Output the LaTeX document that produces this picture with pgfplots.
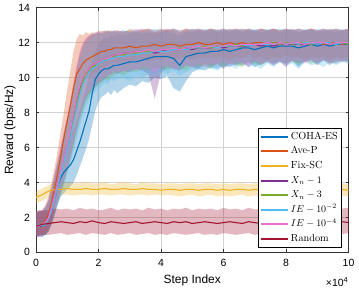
\documentclass[border=0pt]{standalone}
\usepackage{pgfplots}
\pgfplotsset{compat=1.18}
\usepackage{pgfplotstable}
\usepgfplotslibrary{fillbetween}
\usepackage{fontspec}
\newfontfamily\arial{Liberation Sans}
\definecolor{cC}{rgb}{0,0.447,0.741}
\definecolor{cA}{rgb}{0.850,0.325,0.098}
\definecolor{cF}{rgb}{0.929,0.694,0.125}
\definecolor{cP}{rgb}{0.494,0.184,0.556}
\definecolor{cG}{rgb}{0.466,0.674,0.188}
\definecolor{cB}{rgb}{0.301,0.745,0.933}
\definecolor{cK}{rgb}{0.91,0.45,0.82}
\definecolor{cR}{rgb}{0.635,0.078,0.184}

\pgfplotstableread{
x am al ah cm cl ch pm pl ph gm gl gh bm bl bh km kl kh
0.0 1.5 1.0 2.3 1.5 0.9 2.2 1.5 0.9 2.3 1.5 1.0 2.2 1.5 0.9 2.3 1.5 1.0 2.4
0.1 1.5 1.0 2.4 1.5 0.9 2.3 1.5 0.9 2.4 1.5 0.9 2.3 1.6 1.0 2.4 1.5 0.9 2.3
0.2 1.6 1.0 2.4 1.5 0.9 2.3 1.5 0.9 2.4 1.6 1.0 2.4 1.5 0.9 2.3 1.6 1.0 2.4
0.3 1.8 1.1 2.7 1.6 1.0 2.5 1.7 1.0 2.6 1.7 1.0 2.5 1.6 1.0 2.5 1.7 1.1 2.6
0.4 2.2 1.4 3.2 1.9 1.2 2.9 2.0 1.2 3.0 1.9 1.2 2.9 1.9 1.2 2.9 2.0 1.3 3.0
0.5 2.9 1.9 4.0 2.4 1.6 3.4 2.6 1.7 3.7 2.5 1.6 3.6 2.4 1.6 3.5 2.6 1.7 3.7
0.6 3.7 2.6 4.9 3.1 2.2 4.1 3.3 2.3 4.5 3.2 2.2 4.4 3.1 2.1 4.3 3.3 2.3 4.5
0.7 4.6 3.4 5.9 3.8 2.8 4.9 4.0 2.9 5.3 3.9 2.8 5.2 3.8 2.7 5.1 4.0 2.9 5.3
0.8 5.6 4.3 7.0 4.3 3.2 5.5 4.7 3.5 6.1 4.6 3.4 6.0 4.5 3.3 5.9 4.8 3.6 6.2
0.9 6.6 5.2 8.1 4.6 3.4 5.9 5.4 4.1 6.9 5.3 4.0 6.8 5.2 3.9 6.7 5.5 4.2 7.0
1.0 7.5 6.1 9.3 4.8 3.6 6.2 6.1 4.7 7.7 6.0 4.6 7.6 5.9 4.5 7.5 6.2 4.8 7.8
1.1 8.4 6.9 10.4 5.0 3.8 6.6 6.9 5.4 8.6 6.8 5.3 8.5 6.6 5.1 8.3 7.0 5.5 8.7
1.2 9.4 7.8 11.5 5.3 4.0 7.0 7.8 6.2 9.6 7.6 6.0 9.4 7.4 5.8 9.2 7.9 6.3 9.7
1.3 10.2 8.7 12.2 5.8 4.4 7.5 8.7 7.0 10.6 8.5 6.8 10.4 8.2 6.5 10.1 8.8 7.1 10.7
1.4 10.5 9.3 12.5 6.3 4.9 8.1 9.4 7.7 11.4 9.2 7.5 11.2 9.0 7.2 11.0 9.5 7.8 11.5
1.5 10.8 9.6 12.4 6.9 5.4 8.7 9.9 8.3 11.9 9.8 8.1 11.8 9.6 7.8 11.6 10.0 8.4 12.0
1.6 11.0 9.9 12.6 7.5 5.9 9.4 10.3 8.8 12.2 10.2 8.6 12.1 10.0 8.3 12.0 10.3 8.9 12.3
1.7 11.1 10.0 12.5 8.1 6.5 10.1 10.5 9.1 12.4 10.4 8.9 12.3 10.3 8.7 12.2 10.5 9.2 12.4
1.8 11.2 10.2 12.6 9.1 7.3 10.9 10.7 9.3 12.5 10.6 9.2 12.4 10.5 9.0 12.4 10.7 9.4 12.5
1.9 11.3 10.3 12.5 9.9 8.1 11.5 10.8 9.5 12.5 10.7 9.4 12.6 10.6 9.2 12.5 10.8 9.6 12.6
2.0 11.4 10.4 12.7 10.2 8.6 11.9 10.9 9.7 12.6 10.9 9.6 12.5 10.8 9.4 12.6 10.9 9.7 12.6
2.1 11.5 10.6 12.6 10.4 8.9 12.1 11.0 9.8 12.5 11.0 9.7 12.6 10.9 9.5 12.5 11.0 9.9 12.7
2.2 11.5 10.5 12.7 10.5 9.0 12.3 11.1 9.9 12.6 11.0 9.9 12.7 11.0 9.7 12.6 11.1 10.0 12.6
2.3 11.6 10.7 12.6 10.5 9.2 12.2 11.1 10.1 12.7 11.1 9.8 12.6 11.0 9.6 12.7 11.1 10.1 12.7
2.4 11.6 10.8 12.7 10.6 9.0 12.4 11.2 10.2 12.6 11.2 10.0 12.7 11.1 9.9 12.6 11.2 10.2 12.6
2.5 11.7 10.9 12.6 10.7 9.3 12.3 11.3 10.3 12.7 11.2 10.1 12.6 11.1 9.8 12.7 11.3 10.3 12.7
2.6 11.7 10.8 12.7 10.7 9.1 12.5 11.3 10.2 12.6 11.3 10.3 12.7 11.2 9.9 12.6 11.3 10.4 12.7
2.8 11.7 11.0 12.6 10.8 9.4 12.4 11.4 10.4 12.7 11.3 10.1 12.6 11.2 10.0 12.7 11.4 10.3 12.6
3.0 11.8 10.9 12.7 10.9 9.6 12.5 11.4 10.3 12.6 11.4 10.4 12.8 11.3 9.8 12.6 11.4 10.5 12.7
3.2 11.7 11.0 12.6 10.9 9.5 12.6 11.5 10.5 12.7 11.4 10.3 12.7 11.3 10.1 12.7 11.5 10.4 12.8
3.4 11.8 11.1 12.7 11.0 9.8 12.5 11.5 10.4 12.8 11.5 10.5 12.7 11.4 10.0 12.6 11.5 10.6 12.7
3.6 11.8 10.9 12.8 11.1 9.7 12.6 11.5 10.2 12.7 11.5 10.4 12.8 11.4 10.2 12.7 11.6 10.5 12.8
3.8 11.9 11.1 12.6 11.2 10.0 12.5 11.4 8.8 12.6 11.5 10.6 12.7 11.5 10.1 12.8 11.5 10.2 12.7
4.0 11.8 11.0 12.7 11.2 9.9 12.6 11.5 10.3 12.7 11.6 10.5 12.8 11.5 10.3 12.7 11.6 10.6 12.8
4.2 11.9 11.2 12.7 11.2 10.1 12.7 11.6 10.6 12.8 11.6 10.4 12.7 11.5 10.2 12.6 11.6 10.7 12.7
4.4 11.9 11.0 12.8 11.1 9.4 12.5 11.6 10.5 12.7 11.6 10.6 12.8 11.6 10.4 12.8 11.7 10.5 12.8
4.6 11.8 11.1 12.6 10.7 9.2 12.4 11.6 10.4 12.6 11.7 10.5 12.7 11.6 10.1 12.7 11.6 10.6 12.7
4.8 11.9 11.2 12.7 11.2 9.8 12.6 11.7 10.7 12.8 11.6 10.4 12.8 11.6 10.3 12.6 11.7 10.7 12.8
5.0 11.9 11.0 12.8 11.3 10.3 12.6 11.6 10.6 12.7 11.7 10.7 12.7 11.7 10.5 12.8 11.7 10.6 12.7
5.2 12.0 11.2 12.7 11.4 10.5 12.7 11.7 10.5 12.8 11.7 10.6 12.8 11.7 10.4 12.7 11.8 10.8 12.8
5.4 11.9 11.1 12.7 11.4 10.4 12.6 11.7 10.8 12.7 11.8 10.7 12.7 11.7 10.6 12.8 11.7 10.6 12.7
5.6 11.9 11.2 12.8 11.5 10.6 12.7 11.7 10.6 12.8 11.7 10.5 12.8 11.8 10.5 12.7 11.8 10.8 12.8
5.8 12.0 11.1 12.7 11.5 10.5 12.6 11.8 10.8 12.7 11.8 10.8 12.7 11.7 10.4 12.8 11.8 10.7 12.7
6.0 11.9 11.2 12.6 11.6 10.7 12.7 11.7 10.5 12.8 11.8 10.6 12.8 11.8 10.6 12.7 11.8 10.9 12.8
6.2 12.0 11.0 12.8 11.5 10.6 12.6 11.8 10.8 12.7 11.8 10.9 12.7 11.8 10.7 12.8 11.9 10.7 12.7
6.4 11.9 11.2 12.7 11.6 10.8 12.7 11.8 10.7 12.8 11.9 10.7 12.8 11.8 10.5 12.7 11.8 10.9 12.8
6.6 12.0 11.1 12.8 11.7 10.7 12.6 11.8 10.9 12.7 11.8 10.6 12.7 11.9 10.8 12.8 11.9 10.8 12.7
6.8 11.9 11.3 12.7 11.7 10.9 12.7 11.8 10.6 12.8 11.9 10.9 12.8 11.8 10.6 12.7 11.9 10.7 12.8
7.0 12.0 11.1 12.6 11.6 10.6 12.7 11.9 10.9 12.7 11.9 10.8 12.7 11.9 10.7 12.8 11.9 11.0 12.7
7.2 12.0 11.2 12.8 11.7 10.8 12.6 11.8 10.7 12.8 11.9 10.7 12.8 11.9 10.5 12.7 11.9 10.8 12.8
7.4 11.9 11.0 12.7 11.8 10.9 12.7 11.9 11.0 12.7 11.9 10.9 12.7 11.9 10.8 12.8 12.0 10.9 12.7
7.6 12.0 11.2 12.8 11.7 10.7 12.7 11.8 10.8 12.8 12.0 10.8 12.8 11.9 10.6 12.7 11.9 10.7 12.8
7.8 12.0 11.1 12.7 11.8 10.9 12.6 11.9 10.9 12.7 11.9 11.0 12.7 12.0 10.9 12.8 12.0 11.0 12.7
8.0 11.9 11.3 12.7 11.8 10.8 12.7 11.9 10.6 12.8 12.0 10.8 12.8 11.9 10.7 12.7 11.9 10.8 12.8
8.2 12.0 11.1 12.8 11.8 11.0 12.7 11.9 11.0 12.7 11.9 10.9 12.7 12.0 10.8 12.8 12.0 10.9 12.7
8.4 12.0 11.2 12.6 11.7 10.6 12.6 11.9 10.8 12.8 12.0 10.7 12.8 11.9 10.5 12.7 12.0 11.0 12.8
8.6 11.9 11.0 12.7 11.8 10.9 12.7 11.9 10.9 12.7 12.0 11.0 12.7 12.0 10.9 12.8 11.9 10.8 12.7
8.8 12.0 11.2 12.8 11.9 11.0 12.7 12.0 11.0 12.8 11.9 10.8 12.8 12.0 10.7 12.7 12.0 11.0 12.8
9.0 12.0 11.1 12.7 11.8 10.8 12.6 11.9 10.7 12.7 12.0 10.9 12.7 11.9 10.8 12.8 12.0 10.9 12.7
9.2 11.9 11.2 12.6 11.9 11.0 12.7 12.0 11.0 12.8 12.0 11.0 12.8 12.0 10.6 12.7 12.0 11.0 12.8
9.4 12.0 11.0 12.8 11.8 10.7 12.7 11.9 10.9 12.7 11.9 10.8 12.7 12.0 10.9 12.8 11.9 10.8 12.7
9.6 12.0 11.2 12.7 11.9 11.0 12.6 12.0 10.8 12.8 12.0 10.9 12.8 11.9 10.7 12.7 12.0 11.0 12.8
9.8 11.9 11.1 12.7 11.9 10.9 12.7 12.0 11.0 12.7 12.0 11.0 12.7 12.0 10.9 12.8 12.0 10.9 12.7
10.0 12.0 11.2 12.8 11.9 11.0 12.7 12.0 10.9 12.8 11.9 10.8 12.8 12.0 10.8 12.7 12.0 11.0 12.8
}\Learn

\pgfplotstableread{
x fm fl fh rm rl rh
0.0 3.15 2.8 3.5 1.5 0.9 2.3
0.2 3.3 2.95 3.65 1.6 1.0 2.4
0.4 3.5 3.15 3.85 1.65 1.0 2.4
0.6 3.6 3.25 3.95 1.7 1.05 2.5
0.8 3.6 3.3 3.95 1.75 1.1 2.45
1.0 3.65 3.3 4.0 1.7 1.0 2.5
1.2 3.6 3.25 3.95 1.65 1.05 2.4
1.4 3.6 3.3 3.95 1.75 1.1 2.55
1.6 3.65 3.3 4.0 1.7 1.0 2.45
1.8 3.6 3.25 3.95 1.8 1.1 2.5
2.0 3.6 3.3 3.95 1.7 1.05 2.4
2.2 3.65 3.3 4.0 1.65 1.0 2.45
2.4 3.6 3.25 3.9 1.75 1.1 2.55
2.6 3.6 3.3 3.95 1.7 1.0 2.4
2.8 3.65 3.3 4.0 1.65 1.05 2.5
3.0 3.6 3.25 3.95 1.7 1.1 2.45
3.2 3.6 3.3 3.9 1.75 1.0 2.5
3.4 3.65 3.3 4.0 1.65 1.05 2.4
3.6 3.6 3.25 3.95 1.7 1.1 2.55
3.8 3.6 3.3 3.95 1.75 1.0 2.45
4.0 3.55 3.25 3.9 1.7 1.05 2.5
4.2 3.6 3.3 3.95 1.65 1.0 2.4
4.4 3.6 3.25 3.95 1.75 1.1 2.5
4.6 3.55 3.2 3.9 1.7 1.05 2.45
4.8 3.6 3.25 3.95 1.75 1.0 2.55
5.0 3.6 3.3 3.95 1.65 1.05 2.4
5.2 3.55 3.2 3.9 1.7 1.1 2.5
5.4 3.6 3.25 3.95 1.75 1.0 2.45
5.6 3.6 3.3 3.95 1.7 1.05 2.5
5.8 3.55 3.2 3.9 1.65 1.0 2.4
6.0 3.6 3.25 3.95 1.7 1.1 2.55
6.2 3.55 3.2 3.9 1.75 1.05 2.45
6.4 3.6 3.25 3.95 1.7 1.0 2.5
6.6 3.6 3.3 3.95 1.65 1.05 2.4
6.8 3.55 3.2 3.9 1.75 1.1 2.55
7.0 3.6 3.25 3.95 1.7 1.0 2.45
7.2 3.55 3.2 3.9 1.65 1.05 2.5
7.4 3.6 3.25 3.95 1.75 1.1 2.45
7.6 3.55 3.2 3.9 1.7 1.0 2.5
7.8 3.6 3.25 3.95 1.75 1.05 2.55
8.0 3.55 3.2 3.9 1.7 1.1 2.45
8.2 3.6 3.25 3.95 1.65 1.0 2.4
8.4 3.55 3.2 3.9 1.75 1.05 2.5
8.6 3.6 3.25 3.95 1.7 1.1 2.55
8.8 3.55 3.2 3.9 1.75 1.05 2.45
9.0 3.6 3.25 3.95 1.7 1.0 2.5
9.2 3.55 3.2 3.9 1.65 1.05 2.4
9.4 3.6 3.25 3.95 1.75 1.1 2.55
9.6 3.55 3.2 3.9 1.7 1.0 2.45
9.8 3.6 3.25 3.95 1.75 1.05 2.5
10.0 3.55 3.2 3.9 1.7 1.1 2.55
}\Flat

\newcommand{\band}[3]{%
  \addplot[name path=#2h, draw=none, forget plot] table[x=x,y=#2h]{#1};
  \addplot[name path=#2l, draw=none, forget plot] table[x=x,y=#2l]{#1};
  \addplot[fill=#3, fill opacity=0.3, draw=none, forget plot] fill between[of=#2h and #2l];
  \addplot[#3, line width=1.1bp] table[x=x,y=#2m]{#1};
}

\begin{document}
\begin{tikzpicture}
\begin{axis}[
  name=ax,
  scale only axis, width=312.5bp, height=244.6bp,
  xmin=0, xmax=10, ymin=0, ymax=14,
  xtick={0,2,...,10}, ytick={0,2,...,14},
  grid=major, grid style={gray!35, line width=0.5bp},
  axis line style={black!80, line width=0.5bp},
  tick style={black!80, line width=0.5bp},
  major tick length=3bp, tick align=inside,
  /pgf/number format/assume math mode=true,
  tick label style={font=\arial\fontsize{10.5}{12}\selectfont},
  xticklabel style={yshift=-3bp},
  yticklabel style={xshift=-2.5bp},
  xlabel={Step Index}, ylabel={Reward (bps/Hz)},
  every axis x label/.style={at={(axis description cs:0.5,-0.1132)}, anchor=center,
    font=\arial\fontsize{12}{14}\selectfont},
  every axis y label/.style={at={(axis description cs:-0.0832,0.5)}, rotate=90, anchor=center,
    font=\arial\fontsize{12}{14}\selectfont},
  legend style={at={(0.979,0.507)}, anchor=north east, draw=black, line width=0.5bp,
    fill=white, font=\fontsize{10.3}{11}\selectfont, row sep=0pt,
    inner xsep=1.5bp, inner ysep=1bp,
    nodes={inner sep=2.3bp, text height=7.5bp, text depth=2.5bp}},
  legend cell align=left,
  legend image code/.code={\draw[#1, line width=2bp] (0bp,0bp) -- (27bp,0bp);},
]
\band{\Learn}{c}{cC}
\band{\Learn}{a}{cA}
\band{\Flat}{f}{cF}
\band{\Learn}{p}{cP}
\band{\Learn}{g}{cG}
\band{\Learn}{b}{cB}
\band{\Learn}{k}{cK}
\band{\Flat}{r}{cR}
\legend{COHA-ES, Ave-P, Fix-SC, $X_n-1$, $X_n-3$, $IE-10^{-2}$, $IE-10^{-4}$, Random}
\end{axis}
\node[anchor=base east, font=\arial\fontsize{10.5}{12}\selectfont, inner sep=0pt]
  at ([yshift=-34.5bp]ax.south east) {×10\textsuperscript{4}};
\pgfresetboundingbox
\path[use as bounding box] ([xshift=-36bp,yshift=-37.7bp]ax.south west) rectangle ([xshift=10.5bp,yshift=7.7bp]ax.north east);
\end{tikzpicture}
\end{document}
